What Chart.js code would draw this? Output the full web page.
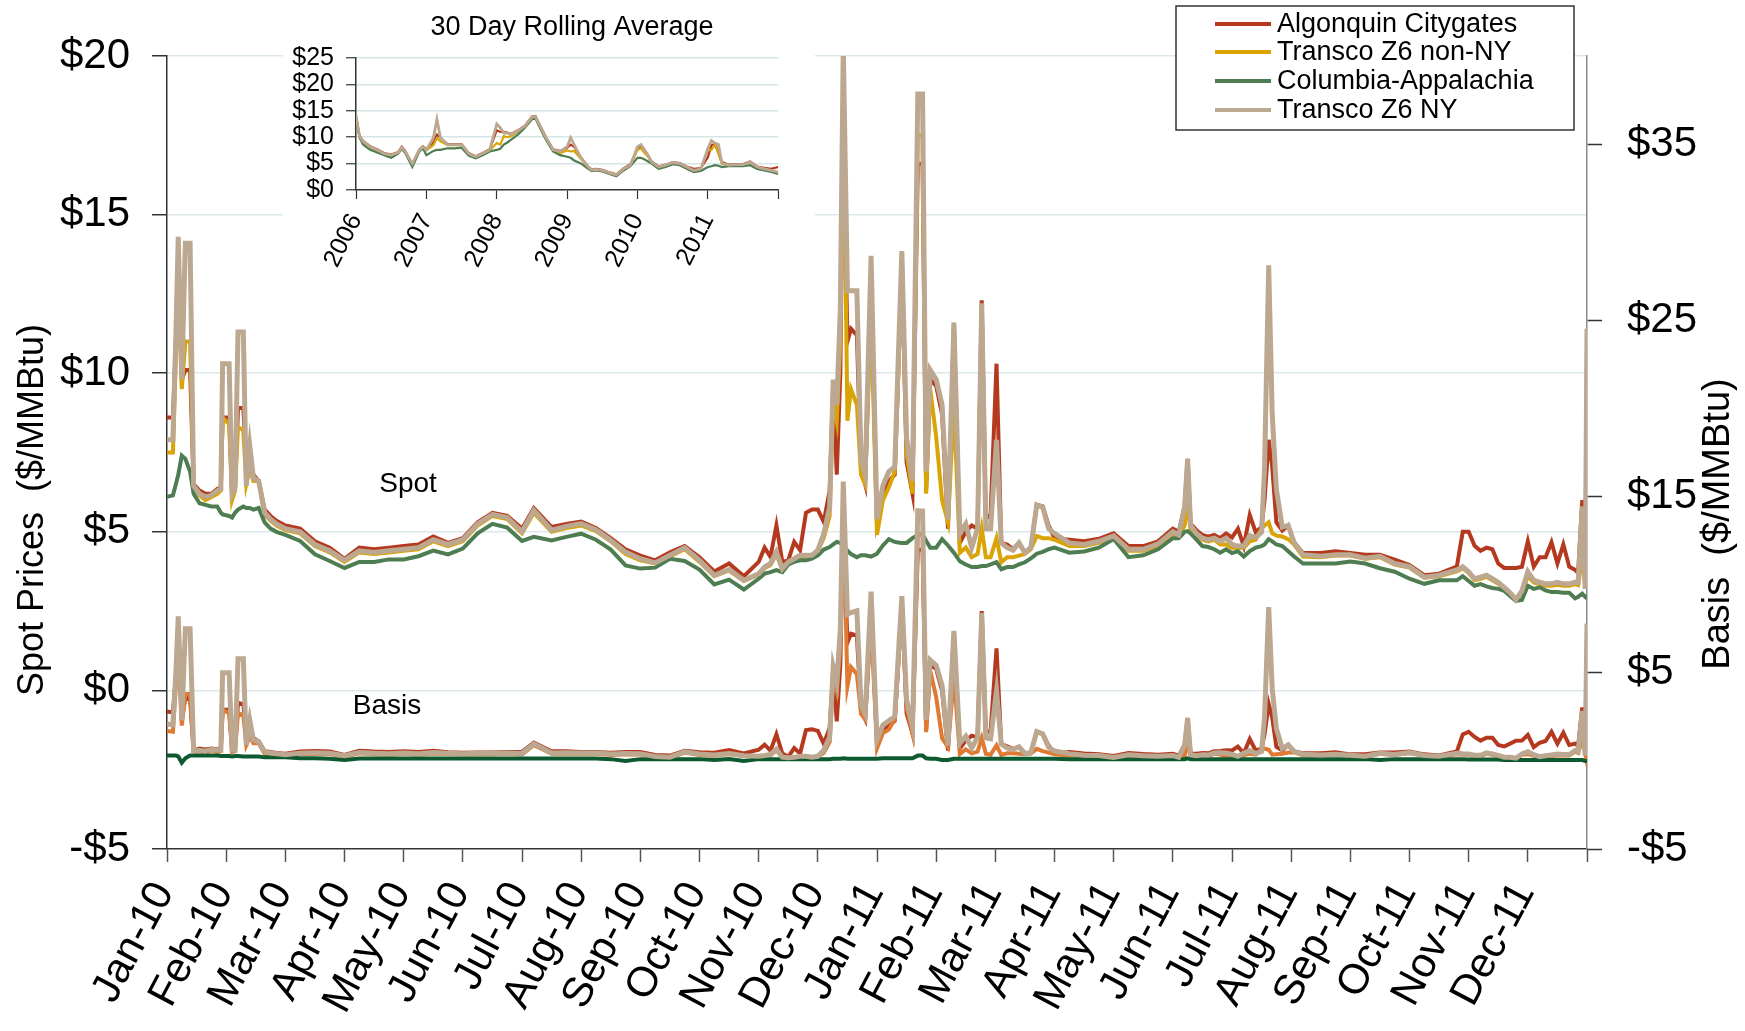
<!DOCTYPE html>
<html>
<head>
<meta charset="utf-8">
<title>Spot prices and basis</title>
<script src="https://cdn.jsdelivr.net/npm/chart.js@4.4.1/dist/chart.umd.min.js"></script>
<style>
  html, body { margin: 0; padding: 0; background: #ffffff; }
  #wrap { position: relative; width: 1745px; height: 1031px; overflow: hidden; }
  #mainChart { position: absolute; left: 0; top: 0; }
  #insetChart { position: absolute; left: 283px; top: 0; background: #ffffff; }
</style>
</head>
<body>
<div id="wrap">
  <canvas id="mainChart" width="1745" height="1031"></canvas>
  <canvas id="insetChart" width="532" height="292"></canvas>
</div>
<script>
// x positions of the samples, in months since Jan-10
var sampleMonths = [
  0, 0.1, 0.15, 0.19, 0.25, 0.31, 0.39, 0.45, 0.55, 0.65, 0.75, 0.85, 0.91, 0.94, 1.05, 1.1, 1.15, 1.2, 1.29, 1.34, 1.4, 1.46, 1.55, 1.65, 1.75, 1.85, 2,
  2.25, 2.5, 2.75, 3, 3.25, 3.5, 3.75, 4, 4.25, 4.5, 4.75, 5, 5.25, 5.5, 5.75, 6, 6.2, 6.5, 6.75, 7, 7.25, 7.5, 7.75, 8, 8.25, 8.5, 8.75, 9, 9.25, 9.5, 9.75,
  10, 10.1, 10.2, 10.3, 10.4, 10.5, 10.6, 10.7, 10.8, 10.9, 11, 11.1, 11.2, 11.26, 11.32, 11.38, 11.43, 11.5, 11.56, 11.66, 11.73, 11.8, 11.9, 12,
  12.1, 12.2, 12.3, 12.36, 12.42, 12.5, 12.6, 12.69, 12.77, 12.83, 12.9, 13, 13.1, 13.2, 13.3,
  13.4, 13.5, 13.6, 13.7, 13.77, 13.84, 13.92, 14.02, 14.1, 14.2, 14.3, 14.4, 14.5, 14.6, 14.7, 14.8, 14.9, 15,
  15.25, 15.5, 15.75, 16, 16.25, 16.5, 16.75,
  17, 17.1, 17.2, 17.25, 17.3, 17.4, 17.5, 17.6, 17.7, 17.8, 17.9, 18, 18.1, 18.2, 18.3, 18.4, 18.5, 18.55, 18.62, 18.68, 18.75, 18.85, 18.95, 19.05, 19.2,
  19.5, 19.75, 20, 20.25, 20.5, 20.75, 21, 21.25, 21.5,
  21.8, 21.9, 22, 22.1, 22.2, 22.3, 22.4, 22.5, 22.6, 22.7, 22.8, 22.9, 23, 23.1, 23.2, 23.3, 23.4, 23.5, 23.6, 23.7, 23.8, 23.85, 23.92, 23.97, 24
];

var monthLabels = ['Jan-10', 'Feb-10', 'Mar-10', 'Apr-10', 'May-10', 'Jun-10', 'Jul-10', 'Aug-10', 'Sep-10', 'Oct-10', 'Nov-10', 'Dec-10',
                   'Jan-11', 'Feb-11', 'Mar-11', 'Apr-11', 'May-11', 'Jun-11', 'Jul-11', 'Aug-11', 'Sep-11', 'Oct-11', 'Nov-11', 'Dec-11'];

var seriesNames = ['Algonquin Citygates', 'Transco Z6 non-NY', 'Columbia-Appalachia', 'Transco Z6 NY'];
var basisTicks = [-5, 5, 15, 25, 35];

// spot prices ($/MMBtu)
var algonquinSpot = [
  8.6, 8.6, 11.0, 13.5, 9.8, 10.1, 10.1, 6.5, 6.3, 6.2, 6.2, 6.35, 6.4, 8.6, 8.6, 6.3, 6.4, 8.9, 8.9, 7.2, 7.3, 6.8, 6.6, 5.7, 5.5, 5.35, 5.2,
  5.1, 4.7, 4.5, 4.15, 4.5, 4.45, 4.5, 4.55, 4.6, 4.85, 4.65, 4.8, 5.3, 5.6, 5.5, 5.1, 5.75, 5.15, 5.25, 5.32, 5.12, 4.8, 4.45, 4.25, 4.1, 4.35, 4.55, 4.2, 3.75, 4.0, 3.6,
  4.05, 4.5, 4.21, 5.2, 4.05, 4.1, 4.68, 4.42, 5.6, 5.7, 5.7, 5.31, 6.3, 9.6, 6.8, 10.0, 18.0, 11.0, 11.4, 11.2, 7.0, 6.5, 12.5, 5.3,
  6.15, 6.6, 6.8, 10.0, 13.5, 7.2, 6.2, 16.6, 16.6, 6.3, 9.8, 9.6, 8.7, 5.1, 11.5,
  4.65, 5.0, 5.2, 5.1, 12.3, 5.4, 5.55, 10.3, 4.65, 4.6, 4.45, 4.65, 4.34, 4.5, 5.85, 5.8, 5.2, 4.8,
  4.75, 4.7, 4.78, 4.95, 4.55, 4.55, 4.7,
  5.1, 5.0, 5.8, 7.3, 5.25, 5.05, 4.9, 4.85, 4.9, 4.8, 4.95, 4.82, 5.1, 4.55, 5.53, 4.99, 5.15, 6.0, 7.9, 7.05, 5.3, 5.04, 5.2, 4.66, 4.33,
  4.33, 4.39, 4.33, 4.28, 4.28, 4.12, 3.95, 3.63, 3.68,
  3.9, 5.0, 5.0, 4.56, 4.4, 4.5, 4.45, 4.0, 3.86, 3.86, 3.86, 3.9, 4.7, 3.9, 4.2, 4.2, 4.67, 4.0, 4.6, 3.9, 3.8, 3.7, 6.0, 3.8, 10.5
];
var transcoNonNySpot = [
  7.5, 7.5, 10.5, 13.0, 9.5, 11.0, 11.0, 6.4, 6.15, 6.0, 6.1, 6.2, 6.3, 8.6, 8.4, 6.0, 6.3, 8.3, 8.2, 6.5, 7.0, 6.6, 6.6, 5.55, 5.35, 5.2, 5.05,
  4.95, 4.55, 4.35, 4.05, 4.35, 4.3, 4.35, 4.4, 4.45, 4.7, 4.55, 4.7, 5.2, 5.5, 5.4, 4.95, 5.6, 5.0, 5.12, 5.2, 5.02, 4.7, 4.3, 4.1, 4.0, 4.22, 4.45, 4.05, 3.6, 3.78, 3.45,
  3.65, 3.85, 3.95, 4.3, 3.8, 4.0, 4.1, 4.2, 4.22, 4.22, 4.4, 4.8, 5.5, 9.2, 8.5, 11.0, 19.0, 8.5, 9.5, 9.0, 6.8, 6.5, 12.0, 4.9,
  6.0, 6.4, 6.9, 10.0, 13.5, 7.5, 6.2, 17.5, 17.5, 6.2, 9.5, 8.0, 6.0, 5.3, 9.0,
  4.34, 4.5, 4.2, 4.3, 5.1, 4.2, 4.2, 4.8, 4.04, 4.2, 4.2, 4.25, 4.3, 4.45, 4.87, 4.8, 4.8, 4.75,
  4.55, 4.55, 4.65, 4.8, 4.4, 4.4, 4.55,
  4.95, 4.85, 5.2, 6.0, 5.0, 4.9, 4.75, 4.7, 4.75, 4.6, 4.6, 4.5, 4.5, 4.5, 4.7, 4.75, 5.1, 5.2, 5.3, 4.95, 4.88, 4.85, 4.77, 4.6, 4.22,
  4.2, 4.25, 4.25, 4.15, 4.2, 3.97, 3.87, 3.55, 3.6,
  3.75, 3.85, 3.7, 3.47, 3.52, 3.58, 3.47, 3.36, 3.2, 3.03, 2.83, 3.1, 3.6, 3.4, 3.35, 3.3, 3.3, 3.33, 3.3, 3.3, 3.35, 3.32, 4.2, 3.3, 5.1
];
var columbiaSpot = [
  6.1, 6.15, 6.5, 6.8, 7.4, 7.3, 6.9, 6.2, 5.9, 5.85, 5.8, 5.8, 5.6, 5.55, 5.5, 5.45, 5.6, 5.7, 5.8, 5.75, 5.75, 5.7, 5.75, 5.3, 5.1, 5.0, 4.9,
  4.71, 4.29, 4.08, 3.86, 4.05, 4.05, 4.13, 4.13, 4.23, 4.41, 4.29, 4.47, 4.95, 5.25, 5.13, 4.71, 4.84, 4.73, 4.84, 4.94, 4.75, 4.44, 3.94, 3.84, 3.87, 4.15, 4.08, 3.81, 3.34, 3.49, 3.18,
  3.52, 3.68, 3.73, 3.79, 3.73, 3.97, 4.05, 4.1, 4.1, 4.15, 4.26, 4.44, 4.52, 4.6, 4.68, 4.65, 4.6, 4.4, 4.3, 4.2, 4.26, 4.26, 4.22, 4.31,
  4.57, 4.77, 4.68, 4.66, 4.65, 4.65, 4.8, 4.9, 4.92, 4.72, 4.5, 4.5, 4.77, 4.57, 4.34,
  4.07, 3.97, 3.89, 3.89, 3.92, 3.92, 3.97, 4.04, 3.82, 3.89, 3.89, 3.97, 4.04, 4.16, 4.31, 4.37, 4.45, 4.5,
  4.34, 4.38, 4.5, 4.77, 4.2, 4.26, 4.45,
  4.8, 4.8, 5.0, 5.02, 4.95, 4.75, 4.55, 4.52, 4.45, 4.34, 4.45, 4.33, 4.39, 4.22, 4.39, 4.5, 4.55, 4.6, 4.77, 4.7, 4.6, 4.55, 4.39, 4.22, 4.0,
  4.0, 4.0, 4.06, 4.0, 3.85, 3.74, 3.52, 3.36, 3.47,
  3.47, 3.6, 3.45, 3.3, 3.35, 3.28, 3.23, 3.2, 3.14, 2.98, 2.82, 2.85, 3.3, 3.2, 3.25, 3.15, 3.1, 3.1, 3.08, 3.08, 2.9, 2.95, 3.05, 2.95, 2.9
];
var transcoNySpot = [
  7.9, 7.9, 11.2, 14.3, 9.8, 14.1, 14.1, 6.45, 6.2, 6.1, 6.15, 6.3, 6.35, 10.3, 10.3, 6.2, 6.4, 11.3, 11.3, 6.45, 7.7, 6.7, 6.6, 5.6, 5.4, 5.25, 5.1,
  5.0, 4.6, 4.4, 4.1, 4.4, 4.35, 4.4, 4.45, 4.5, 4.75, 4.6, 4.75, 5.25, 5.55, 5.45, 5.0, 5.68, 5.05, 5.17, 5.26, 5.07, 4.73, 4.36, 4.15, 4.02, 4.26, 4.5, 4.1, 3.63, 3.81, 3.47,
  3.68, 3.89, 4.0, 4.36, 3.84, 4.05, 4.15, 4.26, 4.26, 4.26, 4.42, 4.94, 5.78, 9.8, 9.0, 12.0, 20.3, 12.6, 12.6, 12.6, 7.3, 6.8, 13.7, 5.4,
  6.45, 6.9, 7.05, 10.5, 13.85, 7.96, 6.6, 18.8, 18.8, 6.9, 10.1, 9.8, 9.0, 5.4, 11.6,
  4.95, 5.25, 4.5, 5.1, 12.2, 5.1, 5.1, 7.9, 4.65, 4.5, 4.42, 4.65, 4.34, 4.5, 5.85, 5.78, 5.1, 4.95,
  4.65, 4.6, 4.7, 4.87, 4.45, 4.45, 4.62,
  5.0, 4.9, 5.8, 7.3, 5.2, 4.95, 4.8, 4.75, 4.8, 4.7, 4.8, 4.6, 4.55, 4.55, 4.88, 4.82, 4.99, 7.0, 13.4, 8.7, 6.34, 5.15, 5.2, 4.66, 4.28,
  4.23, 4.28, 4.28, 4.17, 4.23, 4.0, 3.9, 3.57, 3.63,
  3.8, 3.9, 3.74, 3.52, 3.57, 3.63, 3.52, 3.41, 3.25, 3.08, 2.87, 3.14, 3.74, 3.47, 3.41, 3.36, 3.36, 3.41, 3.36, 3.36, 3.41, 3.4, 5.8, 3.2, 11.4
];

// basis ($/MMBtu, right axis)
var algonquinBasis = [
  2.8, 2.75, 4.8, 7.3, 2.3, 3.6, 3.5, 0.6, 0.7, 0.65, 0.7, 0.65, 0.7, 2.9, 2.9, 0.7, 0.7, 3.3, 3.2, 1.6, 1.9, 1.3, 1.1, 0.55, 0.5, 0.45, 0.4,
  0.54, 0.56, 0.54, 0.34, 0.58, 0.53, 0.5, 0.55, 0.5, 0.57, 0.49, 0.46, 0.48, 0.48, 0.5, 0.52, 1.04, 0.55, 0.54, 0.51, 0.5, 0.46, 0.51, 0.51, 0.33, 0.3, 0.57, 0.49, 0.46, 0.61, 0.42,
  0.63, 0.92, 0.58, 1.51, 0.42, 0.23, 0.73, 0.42, 1.75, 1.8, 1.7, 0.97, 1.88, 5.12, 2.24, 5.47, 13.55, 6.72, 7.22, 7.12, 2.86, 2.36, 8.4, 1.11,
  1.73, 1.98, 2.27, 5.49, 9.0, 2.7, 1.55, 12.0, 11.98, 1.73, 5.42, 5.22, 3.98, 0.58, 7.28,
  0.7, 1.15, 1.43, 1.33, 8.5, 1.6, 1.7, 6.38, 0.95, 0.83, 0.68, 0.8, 0.42, 0.46, 1.66, 1.55, 0.87, 0.42,
  0.51, 0.42, 0.38, 0.28, 0.45, 0.39, 0.35,
  0.4, 0.3, 0.9, 2.43, 0.4, 0.4, 0.45, 0.43, 0.55, 0.56, 0.6, 0.59, 0.81, 0.43, 1.24, 0.59, 0.7, 1.5, 3.23, 2.45, 0.8, 0.59, 0.91, 0.54, 0.43,
  0.43, 0.49, 0.37, 0.38, 0.48, 0.48, 0.53, 0.37, 0.31,
  0.53, 1.5, 1.65, 1.36, 1.15, 1.32, 1.32, 0.9, 0.82, 0.98, 1.14, 1.15, 1.48, 0.78, 1.03, 1.13, 1.65, 0.98, 1.6, 0.9, 0.98, 0.83, 3.03, 0.9, 7.0
];
var transcoNonNyBasis = [
  1.7, 1.65, 4.3, 6.5, 2.0, 3.8, 3.8, 0.5, 0.55, 0.45, 0.6, 0.5, 0.55, 2.9, 2.7, 0.5, 0.55, 2.7, 2.6, 0.9, 1.4, 1.0, 1.0, 0.4, 0.35, 0.3, 0.3,
  0.39, 0.41, 0.39, 0.24, 0.43, 0.38, 0.35, 0.4, 0.35, 0.42, 0.39, 0.36, 0.38, 0.38, 0.4, 0.37, 0.89, 0.4, 0.41, 0.4, 0.4, 0.34, 0.37, 0.36, 0.23, 0.17, 0.47, 0.34, 0.29, 0.39, 0.27,
  0.23, 0.27, 0.32, 0.61, 0.17, 0.13, 0.15, 0.2, 0.22, 0.17, 0.24, 0.46, 1.08, 4.72, 3.94, 6.47, 14.55, 4.22, 5.32, 4.92, 2.66, 2.36, 7.9, 0.71,
  1.58, 1.78, 2.37, 5.49, 9.0, 3.0, 1.55, 12.9, 12.88, 1.63, 5.12, 3.62, 1.28, 0.78, 4.78,
  0.39, 0.65, 0.43, 0.53, 1.3, 0.4, 0.35, 0.88, 0.34, 0.43, 0.43, 0.4, 0.38, 0.41, 0.68, 0.55, 0.47, 0.37,
  0.31, 0.27, 0.25, 0.13, 0.3, 0.24, 0.2,
  0.25, 0.15, 0.3, 1.13, 0.15, 0.25, 0.3, 0.28, 0.4, 0.36, 0.25, 0.27, 0.2, 0.33, 0.41, 0.35, 0.65, 0.7, 0.63, 0.35, 0.38, 0.4, 0.48, 0.48, 0.32,
  0.3, 0.35, 0.29, 0.25, 0.4, 0.33, 0.45, 0.29, 0.23,
  0.38, 0.35, 0.35, 0.27, 0.27, 0.4, 0.34, 0.26, 0.16, 0.15, 0.11, 0.35, 0.38, 0.28, 0.18, 0.23, 0.28, 0.31, 0.3, 0.3, 0.53, 0.45, 1.23, 0.4, 2.25
];
var columbiaBasis = [
  0.3, 0.3, 0.3, 0.25, -0.1, 0.15, 0.3, 0.3, 0.3, 0.3, 0.3, 0.3, 0.28, 0.28, 0.28, 0.25, 0.28, 0.28, 0.25, 0.25, 0.25, 0.25, 0.25, 0.2, 0.2, 0.2, 0.2,
  0.15, 0.15, 0.12, 0.05, 0.13, 0.13, 0.13, 0.13, 0.13, 0.13, 0.13, 0.13, 0.13, 0.13, 0.13, 0.13, 0.13, 0.13, 0.13, 0.13, 0.13, 0.1, 0.0, 0.1, 0.1, 0.1, 0.1, 0.1, 0.05, 0.1, 0.0,
  0.1, 0.1, 0.1, 0.1, 0.1, 0.1, 0.1, 0.1, 0.1, 0.1, 0.1, 0.1, 0.1, 0.12, 0.12, 0.12, 0.15, 0.12, 0.12, 0.12, 0.12, 0.12, 0.12, 0.12,
  0.15, 0.15, 0.15, 0.15, 0.15, 0.15, 0.15, 0.3, 0.3, 0.15, 0.12, 0.12, 0.05, 0.05, 0.12,
  0.12, 0.12, 0.12, 0.12, 0.12, 0.12, 0.12, 0.12, 0.12, 0.12, 0.12, 0.12, 0.12, 0.12, 0.12, 0.12, 0.12, 0.12,
  0.1, 0.1, 0.1, 0.1, 0.1, 0.1, 0.1,
  0.1, 0.1, 0.1, 0.15, 0.1, 0.1, 0.1, 0.1, 0.1, 0.1, 0.1, 0.1, 0.1, 0.1, 0.1, 0.1, 0.1, 0.1, 0.1, 0.1, 0.1, 0.1, 0.1, 0.1, 0.1,
  0.1, 0.1, 0.1, 0.1, 0.05, 0.1, 0.1, 0.1, 0.1,
  0.1, 0.1, 0.08, 0.08, 0.08, 0.08, 0.08, 0.08, 0.05, 0.05, 0.05, 0.05, 0.05, 0.05, 0.05, 0.05, 0.05, 0.05, 0.05, 0.05, 0.05, 0.05, 0.05, 0.0, 0.0
];
var transcoNyBasis = [
  2.1, 2.05, 5.0, 8.2, 2.3, 7.5, 7.5, 0.55, 0.6, 0.55, 0.65, 0.6, 0.6, 5.0, 5.0, 0.6, 0.6, 5.8, 5.8, 0.9, 2.3, 1.2, 1.1, 0.5, 0.45, 0.4, 0.35,
  0.44, 0.46, 0.44, 0.29, 0.48, 0.43, 0.4, 0.45, 0.4, 0.47, 0.44, 0.41, 0.43, 0.43, 0.45, 0.42, 0.97, 0.45, 0.46, 0.45, 0.45, 0.39, 0.42, 0.41, 0.25, 0.21, 0.52, 0.39, 0.34, 0.42, 0.29,
  0.26, 0.31, 0.37, 0.67, 0.21, 0.18, 0.2, 0.26, 0.26, 0.21, 0.26, 0.6, 1.36, 5.32, 4.44, 7.47, 15.85, 8.32, 8.42, 8.52, 3.16, 2.66, 9.6, 1.21,
  2.03, 2.28, 2.52, 5.99, 9.35, 3.46, 1.95, 14.2, 14.18, 2.33, 5.72, 5.42, 4.28, 0.88, 7.38,
  1.0, 1.4, 0.73, 1.33, 8.4, 1.3, 1.25, 3.98, 0.95, 0.73, 0.65, 0.8, 0.42, 0.46, 1.66, 1.53, 0.77, 0.57,
  0.41, 0.32, 0.3, 0.2, 0.35, 0.29, 0.27,
  0.3, 0.2, 0.9, 2.43, 0.35, 0.3, 0.35, 0.33, 0.45, 0.46, 0.45, 0.37, 0.26, 0.43, 0.59, 0.42, 0.54, 2.5, 8.73, 4.1, 1.84, 0.7, 0.91, 0.54, 0.38,
  0.33, 0.38, 0.32, 0.27, 0.43, 0.36, 0.48, 0.31, 0.26,
  0.43, 0.4, 0.39, 0.32, 0.32, 0.45, 0.39, 0.31, 0.21, 0.2, 0.15, 0.39, 0.52, 0.35, 0.24, 0.29, 0.34, 0.39, 0.36, 0.36, 0.59, 0.53, 2.83, 0.3, 7.8
];

// inset: 30 day rolling average, x in years
var insetYears = [
  2006, 2006.05, 2006.1, 2006.2, 2006.3, 2006.4, 2006.5, 2006.6, 2006.65, 2006.7, 2006.8, 2006.9, 2006.95,
  2007, 2007.1, 2007.15, 2007.2, 2007.3, 2007.4, 2007.5, 2007.6, 2007.7, 2007.8, 2007.9,
  2008, 2008.05, 2008.1, 2008.15, 2008.2, 2008.3, 2008.4, 2008.5, 2008.55, 2008.6, 2008.7, 2008.8, 2008.9,
  2009, 2009.05, 2009.1, 2009.2, 2009.3, 2009.35, 2009.4, 2009.5, 2009.6, 2009.7, 2009.8, 2009.9,
  2010, 2010.05, 2010.1, 2010.15, 2010.2, 2010.3, 2010.4, 2010.5, 2010.6, 2010.7, 2010.8, 2010.9,
  2011, 2011.05, 2011.1, 2011.15, 2011.2, 2011.3, 2011.4, 2011.5, 2011.6, 2011.7, 2011.8, 2011.9,
  2012
];
var algonquinAvg = [
  14.0, 10.3, 9.3, 8.3, 7.7, 7.0, 6.7, 7.2, 8.2, 7.4, 4.8, 7.7, 8.3,
  7.7, 9.0, 10.5, 9.9, 8.7, 8.7, 8.7, 7.0, 6.4, 7.0, 7.7,
  11.3, 11.0, 11.0, 10.9, 10.6, 11.3, 12.2, 13.9, 14.0, 12.6, 10.0, 7.7, 7.4,
  8.0, 8.6, 8.2, 6.1, 4.4, 3.9, 4.0, 3.8, 3.35, 2.95, 4.1, 4.9,
  7.9, 8.3, 7.4, 6.5, 5.4, 4.45, 4.8, 5.3, 5.1, 4.45, 4.0, 4.15,
  6.2, 8.5, 8.7, 7.2, 5.3, 4.8, 4.9, 4.9, 5.4, 4.45, 4.2, 4.0,
  4.35
];
var transcoNonNyAvg = [
  13.8, 10.1, 9.0, 8.0, 7.4, 6.8, 6.5, 7.0, 8.0, 7.2, 4.9, 7.5, 8.1,
  7.5, 8.5, 9.8, 9.2, 8.5, 8.5, 8.5, 6.8, 6.2, 6.8, 7.5,
  8.9, 8.6, 10.2, 10.0, 10.2, 11.0, 12.0, 13.7, 13.8, 12.4, 9.8, 7.5, 7.0,
  7.5, 7.3, 7.4, 5.8, 4.3, 3.75, 3.85, 3.65, 3.2, 2.8, 3.95, 4.6,
  7.6, 7.9, 7.0, 6.3, 5.2, 4.3, 4.65, 5.15, 4.95, 4.3, 3.65, 3.95,
  7.6, 7.6, 8.6, 6.8, 4.9, 4.65, 4.75, 4.75, 5.2, 4.3, 3.95, 3.65,
  3.35
];
var columbiaAvg = [
  13.4, 9.9, 8.6, 7.6, 7.1, 6.6, 6.1, 6.9, 7.8, 7.0, 4.35, 7.3, 7.9,
  6.6, 7.4, 7.6, 7.6, 7.9, 7.9, 8.0, 6.5, 6.0, 6.6, 7.3,
  7.6, 7.8, 8.6, 9.0, 9.5, 10.5, 11.8, 13.4, 13.6, 12.1, 9.5, 7.3, 6.6,
  6.3, 6.1, 5.6, 5.0, 4.0, 3.6, 3.7, 3.5, 3.05, 2.6, 3.7, 4.5,
  6.1, 6.1, 5.8, 5.4, 5.0, 4.0, 4.35, 4.9, 4.7, 4.0, 3.4, 3.6,
  4.35, 4.5, 4.7, 4.6, 4.35, 4.5, 4.55, 4.5, 4.7, 4.0, 3.7, 3.4,
  3.05
];
var transcoNyAvg = [
  14.1, 10.2, 9.2, 8.2, 7.6, 6.9, 6.6, 7.1, 8.1, 7.3, 5.0, 7.6, 8.2,
  7.6, 9.9, 13.4, 9.9, 8.6, 8.6, 8.6, 6.9, 6.3, 6.9, 7.6,
  12.5, 11.8, 10.8, 10.8, 10.5, 11.2, 12.1, 13.8, 13.9, 12.5, 9.9, 7.6, 7.3,
  8.2, 9.9, 8.6, 6.0, 4.35, 3.8, 3.9, 3.7, 3.25, 2.85, 4.0, 4.7,
  8.2, 8.6, 7.6, 6.6, 5.3, 4.35, 4.7, 5.2, 5.0, 4.35, 3.7, 4.0,
  7.9, 9.35, 8.9, 8.6, 5.0, 4.7, 4.8, 4.8, 5.3, 4.35, 4.0, 3.7,
  3.4
];

var FONT = "'Liberation Sans', Arial, Helvetica, sans-serif";
Chart.defaults.font.family = FONT;
Chart.defaults.color = '#000000';

var spotColors = ['#B5391F', '#D9A404', '#4E7D52', '#BCA890'];
var basisColors = ['#B5391F', '#E07A32', '#0D5A30', '#BCA890'];

function pairUp(xs, ys) {
  return ys.map(function(y, i) { return {x: xs[i], y: y}; });
}

function money(v) {
  return (v < 0 ? '-$' : '$') + Math.abs(v);
}

function lineSet(label, xs, ys, color, width, axis, order) {
  return {
    label: label,
    data: pairUp(xs, ys),
    borderColor: color,
    backgroundColor: color,
    borderWidth: width,
    pointRadius: 0,
    tension: 0,
    fill: false,
    yAxisID: axis,
    order: order
  };
}

// titles, labels and boxed legend drawn straight on the canvas
var mainDecor = {
  id: 'mainDecor',
  afterDraw: function(chart) {
    var ctx = chart.ctx;
    ctx.save();
    ctx.fillStyle = '#000';
    ctx.textAlign = 'center';
    ctx.textBaseline = 'middle';

    ctx.font = '36px ' + FONT;
    ctx.save();
    ctx.translate(33, 510);
    ctx.rotate(-Math.PI / 2);
    ctx.fillText('Spot Prices  ($/MMBtu)', 0, 0);
    ctx.restore();
    ctx.font = '38px ' + FONT;
    ctx.save();
    ctx.translate(1719, 524);
    ctx.rotate(-Math.PI / 2);
    ctx.fillText('Basis  ($/MMBtu)', 0, 0);
    ctx.restore();

    ctx.font = '28px ' + FONT;
    ctx.fillText('Spot', 408, 484);
    ctx.fillText('Basis', 387, 706);

    // legend box
    ctx.fillStyle = '#fff';
    ctx.fillRect(1176, 6, 398, 124);
    ctx.strokeStyle = '#333';
    ctx.lineWidth = 1.5;
    ctx.strokeRect(1176, 6, 398, 124);
    ctx.font = '27px ' + FONT;
    ctx.textAlign = 'left';
    var rows = [24, 52, 81, 110];
    for (var i = 0; i < seriesNames.length; i++) {
      ctx.strokeStyle = spotColors[i];
      ctx.lineWidth = 4;
      ctx.beginPath();
      ctx.moveTo(1215, rows[i]);
      ctx.lineTo(1271, rows[i]);
      ctx.stroke();
      ctx.fillStyle = '#000';
      ctx.fillText(seriesNames[i], 1277, rows[i] + 1);
    }
    ctx.restore();
  }
};

var mainChart = new Chart(document.getElementById('mainChart'), {
  type: 'line',
  data: {
    datasets: [
      lineSet(seriesNames[0], sampleMonths, algonquinSpot, spotColors[0], 4, 'y', 7),
      lineSet(seriesNames[1], sampleMonths, transcoNonNySpot, spotColors[1], 4, 'y', 6),
      lineSet(seriesNames[2], sampleMonths, columbiaSpot, spotColors[2], 4, 'y', 5),
      lineSet(seriesNames[3], sampleMonths, transcoNySpot, spotColors[3], 5, 'y', 4),
      lineSet(seriesNames[0] + ' basis', sampleMonths, algonquinBasis, basisColors[0], 4, 'y2', 3),
      lineSet(seriesNames[1] + ' basis', sampleMonths, transcoNonNyBasis, basisColors[1], 4, 'y2', 2),
      lineSet(seriesNames[2] + ' basis', sampleMonths, columbiaBasis, basisColors[2], 4, 'y2', 1),
      lineSet(seriesNames[3] + ' basis', sampleMonths, transcoNyBasis, basisColors[3], 5, 'y2', 0)
    ]
  },
  options: {
    responsive: false,
    devicePixelRatio: 1,
    animation: false,
    layout: { padding: { top: 56, left: 0, right: 0, bottom: 0 } },
    plugins: { legend: { display: false }, tooltip: { enabled: false } },
    scales: {
      x: {
        type: 'linear', min: 0, max: 24,
        afterFit: function(s) { s.height = 182; },
        ticks: {
          stepSize: 1, autoSkip: false, maxTicksLimit: 40,
          minRotation: 62, maxRotation: 62, padding: 12, labelOffset: -3,
          font: { size: 42 }, color: '#000',
          callback: function(v) { return monthLabels[v] || ''; }
        },
        grid: { drawOnChartArea: false, tickLength: 13, tickColor: '#555', tickWidth: 1.5 },
        border: { color: '#333', width: 1.5 }
      },
      y: {
        position: 'left', min: -5, max: 20,
        afterFit: function(s) { s.width = 167; },
        ticks: { stepSize: 5, padding: 22, font: { size: 42 }, color: '#000', callback: money },
        grid: {
          color: function(c) { return c.tick && c.tick.value === -5 ? 'rgba(0,0,0,0)' : '#DCE9EB'; },
          lineWidth: 1.5, tickLength: 15, tickColor: '#333', tickWidth: 1.5
        },
        border: { color: '#333', width: 1.5 }
      },
      y2: {
        position: 'right', min: -5, max: 40,
        afterFit: function(s) { s.width = 158; },
        afterBuildTicks: function(s) { s.ticks = basisTicks.map(function(v) { return {value: v}; }); },
        ticks: { padding: 25, font: { size: 42 }, color: '#000', callback: money },
        grid: { drawOnChartArea: false, tickLength: 15, tickColor: '#333', tickWidth: 1.5 },
        border: { color: '#8A8A8A', width: 1.5 }
      }
    }
  },
  plugins: [mainDecor]
});

var insetDecor = {
  id: 'insetDecor',
  afterDraw: function(chart) {
    var ctx = chart.ctx;
    ctx.save();
    ctx.fillStyle = '#000';
    ctx.font = '27px ' + FONT;
    ctx.textAlign = 'center';
    ctx.textBaseline = 'middle';
    ctx.fillText('30 Day Rolling Average', 289, 28);
    ctx.restore();
  }
};

var insetChart = new Chart(document.getElementById('insetChart'), {
  type: 'line',
  data: {
    datasets: [
      lineSet(seriesNames[0], insetYears, algonquinAvg, spotColors[0], 2.2, 'y', 3),
      lineSet(seriesNames[1], insetYears, transcoNonNyAvg, spotColors[1], 2.2, 'y', 2),
      lineSet(seriesNames[2], insetYears, columbiaAvg, spotColors[2], 2.2, 'y', 1),
      lineSet(seriesNames[3], insetYears, transcoNyAvg, spotColors[3], 2.8, 'y', 0)
    ]
  },
  options: {
    responsive: false,
    devicePixelRatio: 1,
    animation: false,
    layout: { padding: { top: 58, right: 28, left: 0, bottom: 0 } },
    plugins: { legend: { display: false }, tooltip: { enabled: false } },
    scales: {
      x: {
        type: 'linear', min: 2006, max: 2012,
        afterFit: function(s) { s.height = 102; },
        ticks: {
          stepSize: 1, autoSkip: false, minRotation: 63, maxRotation: 63, padding: 10,
          font: { size: 25 }, color: '#000',
          callback: function(v) { return v < 2012 ? String(v) : ''; }
        },
        grid: { drawOnChartArea: false, tickLength: 9, tickColor: '#333', tickWidth: 1.2 },
        border: { color: '#333', width: 1.5 }
      },
      y: {
        min: 0, max: 25,
        afterFit: function(s) { s.width = 73; },
        ticks: { stepSize: 5, autoSkip: false, padding: 12, font: { size: 25 }, color: '#000',
                 callback: function(v) { return '$' + v; } },
        grid: {
          color: function(c) { return c.tick && c.tick.value === 0 ? 'rgba(0,0,0,0)' : '#D6E6E8'; },
          lineWidth: 1.5, tickLength: 10, tickColor: '#333', tickWidth: 1.2
        },
        border: { color: '#333', width: 1.5 }
      }
    }
  },
  plugins: [insetDecor]
});
</script>
</body>
</html>
